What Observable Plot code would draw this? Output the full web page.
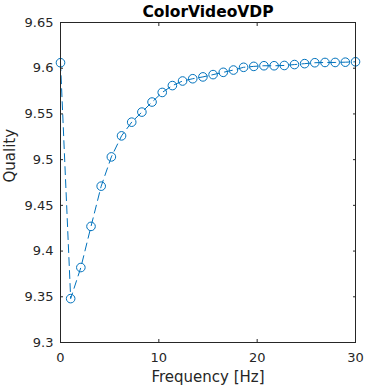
<!DOCTYPE html>
<html><head><meta charset="utf-8">
<script src="https://cdn.jsdelivr.net/npm/d3@7"></script>
<script src="https://cdn.jsdelivr.net/npm/@observablehq/plot@0.6"></script>
<style>body{margin:0;background:#fff} svg{display:block}</style>
</head><body><div id="chart"></div>
<script>
const frequency = [0, 1.034, 2.069, 3.103, 4.138, 5.172, 6.207, 7.241, 8.276, 9.310,
  10.345, 11.379, 12.414, 13.448, 14.483, 15.517, 16.552, 17.586, 18.621, 19.655,
  20.690, 21.724, 22.759, 23.793, 24.828, 25.862, 26.897, 27.931, 28.966, 30];
const quality = [9.606, 9.348, 9.382, 9.427, 9.471, 9.503, 9.526, 9.541, 9.552, 9.563,
  9.5735, 9.581, 9.586, 9.5885, 9.5905, 9.593, 9.5955, 9.598, 9.601, 9.602,
  9.6027, 9.6027, 9.603, 9.604, 9.605, 9.606, 9.6063, 9.6063, 9.6066, 9.607];
const xTicks = [0, 10, 20, 30];
const yTicks = [9.3, 9.35, 9.4, 9.45, 9.5, 9.55, 9.6, 9.65];
const title = "ColorVideoVDP";
const xLabel = "Frequency [Hz]";
const yLabel = "Quality";

const data = frequency.map((f, i) => ({f, q: quality[i]}));
const axisColor = "#262626";
const blue = "#0072BD";

const chart = Plot.plot({
  width: 365, height: 387,
  marginTop: 22, marginBottom: 45, marginLeft: 60, marginRight: 10,
  style: {fontFamily: "DejaVu Sans", fontSize: "13px", color: axisColor, background: "#fff"},
  x: {domain: [0, 30]},
  y: {domain: [9.3, 9.65]},
  marks: [
    Plot.line(data, {x: "f", y: "q", stroke: blue, strokeWidth: 1, strokeDasharray: "8,5"}),
    Plot.dot(data, {x: "f", y: "q", r: 4.3, stroke: blue, fill: "none", strokeWidth: 1}),
    Plot.frame({stroke: axisColor, strokeWidth: 1}),
    Plot.axisX(xTicks, {tickSize: -3, tickPadding: 13, label: null, stroke: axisColor, fill: axisColor, fontSize: 13}),
    Plot.axisX(xTicks, {anchor: "top", tickSize: -3, tickFormat: () => "", label: null, stroke: axisColor}),
    Plot.axisY(yTicks, {tickSize: -3, tickPadding: 10, label: null, stroke: axisColor, fill: axisColor, fontSize: 13, tickFormat: d => String(d)}),
    Plot.axisY(yTicks, {anchor: "right", tickSize: -3, tickFormat: () => "", label: null, stroke: axisColor}),
    Plot.text([title], {frameAnchor: "top", lineAnchor: "middle", dy: -10.5, fontWeight: "bold", fontSize: 15.5, fill: "#000"}),
    Plot.text([xLabel], {frameAnchor: "bottom", lineAnchor: "middle", dy: 34.5, fontSize: 15, fill: axisColor}),
    Plot.text([yLabel], {frameAnchor: "left", lineAnchor: "middle", dx: -50.5, rotate: -90, fontSize: 15, fill: axisColor})
  ]
});
document.getElementById("chart").appendChild(chart);
</script>
</body></html>
